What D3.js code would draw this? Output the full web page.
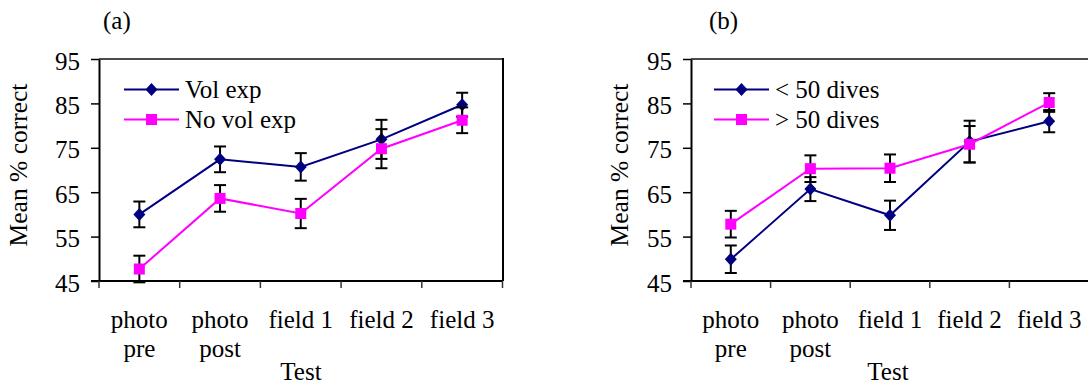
<!DOCTYPE html>
<html>
<head>
<meta charset="utf-8">
<script src="https://cdn.jsdelivr.net/npm/d3@7/dist/d3.min.js"></script>
<style>
  html, body { margin: 0; padding: 0; background: #fff; }
  svg { display: block; }
  text { font-family: "Liberation Serif", "Times New Roman", serif; fill: #000; }
</style>
</head>
<body>
<svg id="chart" width="1088" height="385"></svg>
<script>
// ---- data ----
const categories = ["photo pre", "photo post", "field 1", "field 2", "field 3"];
const categoryLines = [["photo", "pre"], ["photo", "post"], ["field 1"], ["field 2"], ["field 3"]];
const yTicks = [45, 55, 65, 75, 85, 95];

// panel (a)
const volExp      = [60.0, 72.4, 70.7, 76.9, 84.7];
const volExpErr   = [2.9, 2.9, 3.1, 4.4, 2.7];
const noVolExp    = [47.7, 63.6, 60.2, 74.8, 81.2];
const noVolExpErr = [3.0, 3.0, 3.3, 4.4, 2.9];

// panel (b)
const lt50Dives    = [49.9, 65.7, 59.8, 76.4, 81.0];
const lt50DivesErr = [3.1, 2.7, 3.3, 4.7, 2.5];
const gt50Dives    = [57.8, 70.3, 70.4, 75.8, 85.2];
const gt50DivesErr = [3.0, 3.0, 3.1, 4.1, 2.1];

const panelLabels = ["(a)", "(b)"];
const seriesNamesA = ["Vol exp", "No vol exp"];
const seriesNamesB = ["< 50 dives", "> 50 dives"];
const yTitle = "Mean % correct";
const xTitle = "Test";

// ---- drawing ----
const svg = d3.select("#chart");
const NAVY = "#000080", MAGENTA = "#FF00FF";
const FS = 25;

function drawPanel(cfg) {
  const g = svg.append("g");
  const x = d3.scaleBand().domain(categories).range([cfg.left, cfg.right]).padding(0);
  const y = d3.scaleLinear().domain([45, 95]).range([281, 59]);

  // plot-area border (top + right)
  g.append("line").attr("x1", cfg.left).attr("x2", cfg.right).attr("y1", y(95)).attr("y2", y(95))
    .attr("stroke", "#111").attr("stroke-width", 1.6);
  g.append("line").attr("x1", cfg.right + 0.5).attr("x2", cfg.right + 0.5).attr("y1", y(95) - 1).attr("y2", y(45))
    .attr("stroke", "#000").attr("stroke-width", 2);

  // y axis
  const yAxis = d3.axisLeft(y).tickValues(yTicks).tickSize(8).tickSizeOuter(0).tickPadding(11);
  const ya = g.append("g").attr("transform", `translate(${cfg.left},0)`).call(yAxis);
  ya.select(".domain").attr("stroke", "#000").attr("stroke-width", 2);
  ya.selectAll(".tick line").attr("stroke", "#000").attr("stroke-width", 1.5);
  ya.selectAll(".tick text").attr("font-size", FS).attr("font-family", "Liberation Serif")
    .attr("fill", "#000").attr("dy", "0.40em");

  // x axis baseline
  g.append("line").attr("x1", cfg.left - 8).attr("x2", cfg.right).attr("y1", y(45)).attr("y2", y(45))
    .attr("stroke", "#000").attr("stroke-width", 2);
  // x ticks at band boundaries
  const bounds = categories.map(c => x(c)).concat([x(categories[categories.length - 1]) + x.bandwidth()]);
  g.selectAll(".xtick").data(bounds).join("line").attr("class", "xtick")
    .attr("x1", d => d).attr("x2", d => d).attr("y1", y(45)).attr("y2", y(45) + 7)
    .attr("stroke", "#333").attr("stroke-width", 1.5);
  // x tick labels
  categories.forEach((c, i) => {
    const t = g.append("text").attr("x", x(c) + x.bandwidth() / 2).attr("y", 328)
      .attr("text-anchor", "middle").attr("font-size", FS);
    categoryLines[i].forEach((line, j) => {
      t.append("tspan").attr("x", x(c) + x.bandwidth() / 2).attr("dy", j === 0 ? 0 : 29).text(line);
    });
  });
  // axis titles
  g.append("text").attr("x", cfg.xTitleX).attr("y", 380).attr("text-anchor", "middle")
    .attr("font-size", FS).text(xTitle);
  g.append("text").attr("transform", `translate(${cfg.yTitleX},165) rotate(-90)`)
    .attr("text-anchor", "middle").attr("font-size", 25.5).text(yTitle);
  // panel label
  g.append("text").attr("x", cfg.labelX).attr("y", 29).attr("font-size", FS).text(cfg.label);

  // series
  cfg.series.forEach(s => {
    const pts = categories.map((c, i) => ({ c, v: s.values[i], e: s.errors[i] }));
    const cx = d => x(d.c) + x.bandwidth() / 2;
    // error bars
    const eb = g.append("g");
    eb.selectAll("line.v").data(pts).join("line").attr("class", "v")
      .attr("x1", cx).attr("x2", cx).attr("y1", d => y(d.v + d.e)).attr("y2", d => y(d.v - d.e))
      .attr("stroke", "#000").attr("stroke-width", 2);
    eb.selectAll("line.t").data(pts).join("line").attr("class", "t")
      .attr("x1", d => cx(d) - 6).attr("x2", d => cx(d) + 6).attr("y1", d => y(d.v + d.e)).attr("y2", d => y(d.v + d.e))
      .attr("stroke", "#000").attr("stroke-width", 2);
    eb.selectAll("line.b").data(pts).join("line").attr("class", "b")
      .attr("x1", d => cx(d) - 6).attr("x2", d => cx(d) + 6).attr("y1", d => y(d.v - d.e)).attr("y2", d => y(d.v - d.e))
      .attr("stroke", "#000").attr("stroke-width", 2);
    // line
    g.append("path").datum(pts).attr("fill", "none").attr("stroke", s.color).attr("stroke-width", 2)
      .attr("d", d3.line().x(cx).y(d => y(d.v)));
    // markers
    g.selectAll(null).data(pts).join("path")
      .attr("transform", d => `translate(${cx(d)},${y(d.v)})`)
      .attr("d", s.shape === "diamond" ? "M0,-6.5L6,0L0,6.5L-6,0Z" : "M-5.5,-5.5H5.5V5.5H-5.5Z")
      .attr("fill", s.color);
  });

  // legend
  cfg.series.forEach((s, i) => {
    const ly = 89.5 + i * 30;
    g.append("line").attr("x1", cfg.legendX).attr("x2", cfg.legendX + 55).attr("y1", ly).attr("y2", ly)
      .attr("stroke", s.color).attr("stroke-width", 2);
    g.append("path").attr("transform", `translate(${cfg.legendX + 27.5},${ly})`)
      .attr("d", s.shape === "diamond" ? "M0,-6.5L6,0L0,6.5L-6,0Z" : "M-5.5,-5.5H5.5V5.5H-5.5Z")
      .attr("fill", s.color);
    g.append("text").attr("x", cfg.legendX + 61).attr("y", ly + 8).attr("font-size", FS).text(s.name);
  });
}

drawPanel({
  left: 99, right: 502.5, xTitleX: 301, yTitleX: 27, labelX: 103, label: panelLabels[0], legendX: 124,
  series: [
    { name: seriesNamesA[0], values: volExp, errors: volExpErr, color: NAVY, shape: "diamond" },
    { name: seriesNamesA[1], values: noVolExp, errors: noVolExpErr, color: MAGENTA, shape: "square" }
  ]
});
drawPanel({
  left: 691, right: 1089, xTitleX: 888, yTitleX: 628, labelX: 709, label: panelLabels[1], legendX: 714,
  series: [
    { name: seriesNamesB[0], values: lt50Dives, errors: lt50DivesErr, color: NAVY, shape: "diamond" },
    { name: seriesNamesB[1], values: gt50Dives, errors: gt50DivesErr, color: MAGENTA, shape: "square" }
  ]
});
</script>
</body>
</html>
